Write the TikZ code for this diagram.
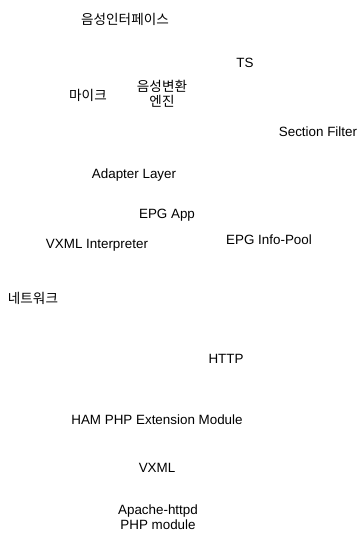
\documentclass[tikz,border=0pt]{standalone}
\usepackage{fontspec}
\setmainfont{Liberation Sans}
\newfontfamily\kr{Noto Sans CJK KR}
\begin{document}
\begin{tikzpicture}[x=1pt,y=-1pt,
  lbl/.style={inner sep=0pt,anchor=base,font=\fontsize{13.4}{14.5}\selectfont,align=center},
  krlbl/.style={lbl,font=\fontsize{13.6}{15}\kr}]
\useasboundingbox (0,0) rectangle (359,533);
% voice interface side
\node[krlbl] (vif)   at (125,24)  {음성인터페이스};
\node[krlbl] (mic)   at (88,100)  {마이크};
\node[krlbl] (stt)   at (162,106) {음성변환\\엔진};
% broadcast side
\node[lbl]   (ts)    at (245,67)  {TS};
\node[lbl]   (sf)    at (318,136) {Section Filter};
\node[lbl]   (adl)   at (134,178) {Adapter Layer};
\node[lbl]   (epg)   at (167,218) {EPG App};
\node[lbl]   (vxi)   at (97,248)  {VXML Interpreter};
\node[lbl]   (pool)  at (269,244) {EPG Info-Pool};
% network side
\node[krlbl] (net)   at (33,303)  {네트워크};
\node[lbl]   (http)  at (226,363) {HTTP};
\node[lbl]   (ham)   at (157,424) {HAM PHP Extension Module};
\node[lbl]   (vxml)  at (157,472) {VXML};
\node[lbl]   (apa)   at (158,529) {Apache-httpd\\PHP module};
\end{tikzpicture}
\end{document}
